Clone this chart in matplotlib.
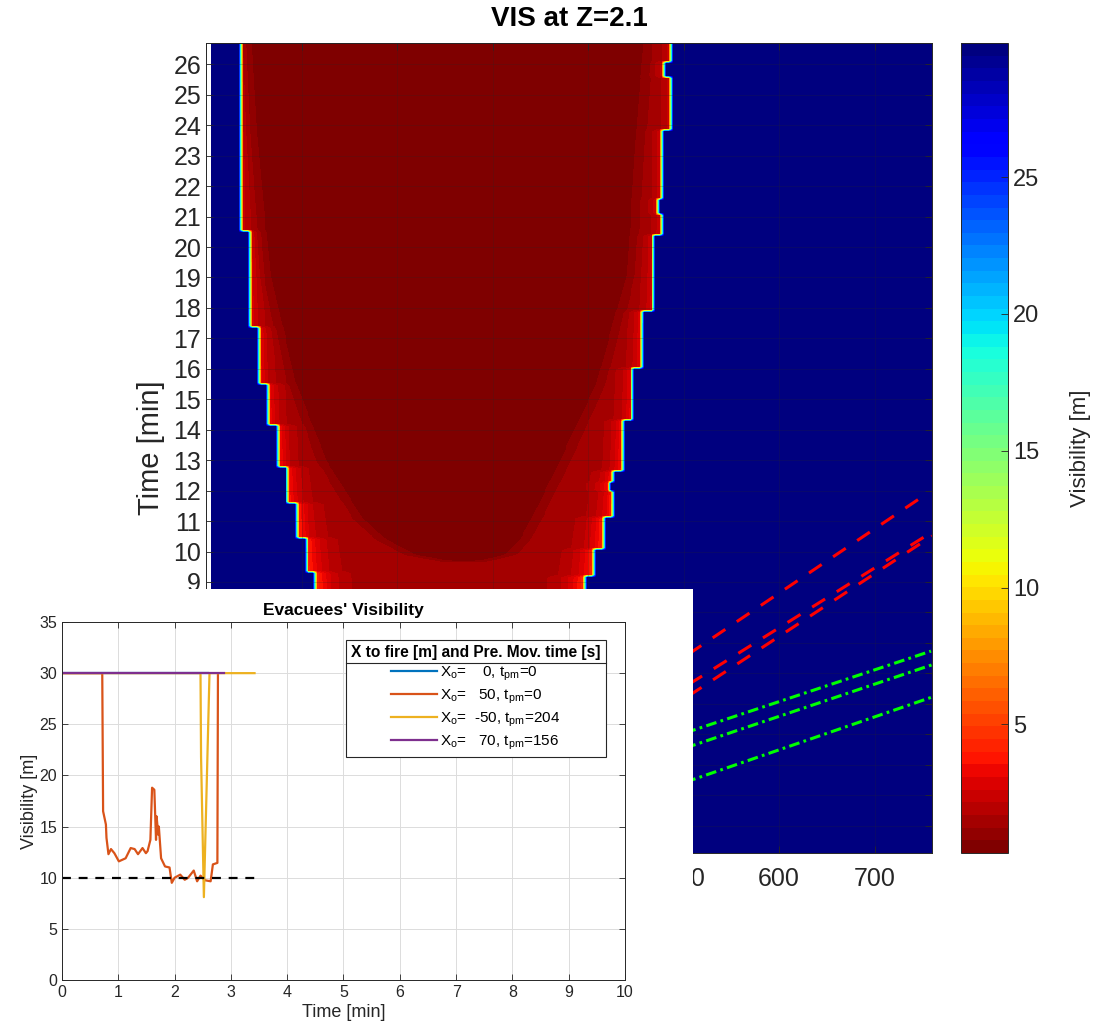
import numpy as np
import matplotlib
matplotlib.use('Agg')
import matplotlib.pyplot as plt
from matplotlib.lines import Line2D

plt.rcParams['font.family'] = ['Liberation Sans', 'DejaVu Sans']
plt.rcParams['mathtext.fontset'] = 'custom'
plt.rcParams['mathtext.rm'] = 'Liberation Sans'
plt.rcParams['mathtext.it'] = 'Liberation Sans:italic'
plt.rcParams['mathtext.bf'] = 'Liberation Sans:bold'

TXT = '#262626'

# ---- heatmap data (VIS at Z=2.1) ----
# smoke front: left edge [m], valid from time [min] upward
left_t = [20.55, 17.39, 15.51, 14.13, 12.80, 11.60, 10.46, 9.32, 0.0]
left_x = [37, 47, 56, 66, 76, 86, 96, 106, 115]
# right edge [m]
right_t = [23.83, 20.42, 17.90, 16.01, 14.31, 12.67, 11.15, 10.08, 9.20, 0.0]
right_x = [486, 477, 468, 456, 446, 436, 426, 416, 406, 396]
# small notches on right edge (t from, t to, shift [m])
notch_t0 = [25.6, 21.1, 12.0]
notch_t1 = [26.1, 21.6, 12.3]
notch_dx = [-7, -4, -4]
# darkest smoke core (U shape)
core_t = [9.70, 9.9, 10.4, 11.1, 13.0, 15.5, 19.1, 23.8, 26.7]
core_l = [250, 215, 185, 160, 122, 90, 63, 48, 42]
core_r = [290, 318, 333, 345, 375, 413, 445, 455, 462]
# visibility right at the smoke edge, and width of the bright band, by time
edgev_t = [0, 9, 13, 20, 26.7]
edgev_v = [4.8, 4.6, 3.9, 2.9, 2.6]
band_w = [22, 18, 11, 8, 7]
VIS_CLEAR = 30.0
VIS_CORE = 0.35
VIS_MID = 1.3

# evacuee paths (distance [m], time [min])
red_x = [[480, 756], [480, 760], [480, 760]]
red_t = [[6.10, 11.93], [5.14, 10.64], [4.74, 10.51]]
green_x = [[480, 759], [480, 760], [480, 760]]
green_t = [[3.82, 6.73], [3.32, 6.28], [2.19, 5.22]]

# ---- inset data (Evacuees' Visibility) ----
blue_t = [0, 2.6]
blue_v = [30, 30]
orange_t = [0, 0.715, 0.73, 0.78, 0.79, 0.825, 0.87, 0.93, 1.01, 1.13, 1.22, 1.29,
            1.35, 1.43, 1.49, 1.52, 1.57, 1.60, 1.64, 1.67, 1.68, 1.71, 1.72, 1.76,
            1.83, 1.91, 1.95, 2.00, 2.10, 2.18, 2.24, 2.34, 2.40, 2.46, 2.54, 2.64,
            2.68, 2.76, 2.77]
orange_v = [30, 30, 16.5, 15.2, 13.9, 12.3, 12.8, 12.4, 11.6, 11.9, 12.9, 12.8,
            12.3, 12.9, 12.4, 12.6, 13.7, 18.8, 18.6, 13.7, 16.0, 14.2, 15.0, 11.9,
            11.1, 11.0, 9.5, 10.0, 10.3, 9.8, 10.0, 10.7, 9.65, 10.2, 9.75, 9.65,
            11.3, 11.45, 30]
yellow_t = [0, 2.46, 2.47, 2.52, 2.62, 3.42]
yellow_v = [30, 30, 21.8, 8.1, 30, 30]
purple_t = [0, 2.87]
purple_v = [30, 30]
thr_t = [0, 3.5]
thr_v = [10, 10]
labels = ['X$_\\mathrm{o}$=    0, t$_\\mathrm{pm}$=0',
          'X$_\\mathrm{o}$=   50, t$_\\mathrm{pm}$=0',
          'X$_\\mathrm{o}$=  -50, t$_\\mathrm{pm}$=204',
          'X$_\\mathrm{o}$=   70, t$_\\mathrm{pm}$=156']
colors = ['#0072BD', '#D95319', '#EDB120', '#7E2F8E']


def step_edge(t, ts, xs):
    ts = np.asarray(ts)
    xs = np.asarray(xs, dtype=float)
    out = np.empty_like(t)
    for k, tt in enumerate(t):
        out[k] = xs[np.argmax(tt >= ts)]
    return out


def blur(a, kx, ky):
    p = np.pad(a, ((ky // 2, ky // 2), (kx // 2, kx // 2)), mode='edge')
    out = np.zeros_like(a)
    for i in range(ky):
        for j in range(kx):
            out += p[i:i + a.shape[0], j:j + a.shape[1]]
    return out / (kx * ky)


xg = np.arange(6, 761, 1.0)
tg = np.arange(0.1, 26.7, 0.033)
L = step_edge(tg, left_t, left_x)
R = step_edge(tg, right_t, right_x)
for a, b, dx in zip(notch_t0, notch_t1, notch_dx):
    R[(tg >= a) & (tg <= b)] += dx
CL = np.interp(tg, core_t, core_l, left=270, right=core_l[-1])
CR = np.interp(tg, core_t, core_r, left=270, right=core_r[-1])
EV = np.interp(tg, edgev_t, edgev_v)
BW = np.interp(tg, edgev_t, band_w)

X = xg[None, :]
d_edge = np.minimum(X - L[:, None], R[:, None] - X)
mid = VIS_MID + (EV[:, None] - VIS_MID) * np.exp(-np.clip(d_edge, 0, None) / BW[:, None])
d_core = np.minimum(X - CL[:, None], CR[:, None] - X)
w = np.clip(d_core / 24.0 + 0.4, 0, 1)
w[tg < core_t[0], :] = 0
vin = w * VIS_CORE + (1 - w) * mid
V = np.where(d_edge >= 0, vin, VIS_CLEAR)
V = blur(V, 5, 3)

# ---- figure ----
fig = plt.figure(figsize=(10.94, 10.27), dpi=100)
ax = fig.add_axes([206 / 1094, 1 - 853 / 1027, 726 / 1094, 810 / 1027])
cmap = plt.get_cmap('jet_r', 64)
im = ax.imshow(V, origin='lower', aspect='auto', cmap=cmap, vmin=0.3, vmax=29.9,
               extent=(xg[0] - 0.5, xg[-1] + 0.5, tg[0], tg[-1]),
               interpolation='nearest', zorder=1)
for xs, ts in zip(red_x, red_t):
    ax.plot(xs, ts, color='#ff0000', lw=2.2, dashes=(5, 4.5), zorder=3)
for xs, ts in zip(green_x, green_t):
    ax.plot(xs, ts, color='#00ff00', lw=2.2, dashes=(3.5, 1.4, 0.9, 1.4), zorder=3)
ax.set_xlim(6, 760)
ax.set_ylim(0.1, 26.7)
ax.set_xticks(range(0, 800, 100))
ax.set_yticks(range(1, 27))
ax.grid(True, color=TXT, alpha=0.25, lw=0.6)
ax.set_axisbelow(False)
ax.tick_params(direction='in', top=True, right=True, labelsize=18, colors=TXT,
               length=5, width=0.6)
ax.tick_params(axis='x', pad=10)
for s in ax.spines.values():
    s.set_color(TXT)
    s.set_linewidth(0.7)
ax.set_ylabel('Time [min]', fontsize=21, color=TXT, labelpad=6)
ax.set_title('VIS at Z=2.1', fontsize=20, fontweight='bold', color='k', pad=12)

cax = fig.add_axes([961 / 1094, 1 - 853 / 1027, 47 / 1094, 810 / 1027])
cb = fig.colorbar(im, cax=cax, ticks=[5, 10, 15, 20, 25])
cb.outline.set_edgecolor(TXT)
cb.outline.set_linewidth(0.7)
cax.tick_params(direction='in', labelsize=17, colors=TXT, length=5, width=0.6)
cb.set_label('Visibility [m]', fontsize=16, color=TXT, labelpad=22)

# white panel with the inset chart
panel = fig.add_axes([0, 0, 693 / 1094, 1 - 589 / 1027])
panel.set_facecolor('white')
panel.set_xticks([])
panel.set_yticks([])
for s in panel.spines.values():
    s.set_visible(False)

ins = fig.add_axes([62 / 1094, 1 - 980 / 1027, 563 / 1094, 358 / 1027])
series = [(blue_t, blue_v), (orange_t, orange_v), (yellow_t, yellow_v), (purple_t, purple_v)]
handles = []
for (ts, vs), c, lab in zip(series, colors, labels):
    h, = ins.plot(ts, vs, color=c, lw=1.6, label=lab)
    handles.append(h)
ins.plot(thr_t, thr_v, color='k', lw=1.6, dashes=(4, 3.5))
ins.set_xlim(0, 10)
ins.set_ylim(0, 35)
ins.set_xticks(range(0, 11))
ins.set_yticks(range(0, 36, 5))
ins.grid(True, color='#dcdcdc', lw=0.7)
ins.set_axisbelow(True)
ins.tick_params(direction='in', top=True, right=True, labelsize=11.5, colors=TXT,
                length=4, width=0.6)
for s in ins.spines.values():
    s.set_color(TXT)
    s.set_linewidth(0.7)
ins.set_xlabel('Time [min]', fontsize=13, color=TXT, labelpad=3)
ins.set_ylabel('Visibility [m]', fontsize=13, color=TXT, labelpad=1)
ins.set_title("Evacuees' Visibility", fontsize=12.5, fontweight='bold', color='k', pad=5)

leg = ins.legend(handles=handles, loc='upper right', bbox_to_anchor=(0.966, 0.950),
                 borderaxespad=0, fancybox=False, framealpha=1, edgecolor=TXT,
                 fontsize=11, title='X to fire [m] and Pre. Mov. time [s]',
                 title_fontproperties={'weight': 'bold', 'size': 11.2},
                 handlelength=3.0, handletextpad=0.2, labelspacing=0.3,
                 borderpad=0.35)
leg.get_frame().set_linewidth(0.8)

fig.canvas.draw()
lb = leg.get_window_extent()
tb = leg.get_title().get_window_extent()
ysep = tb.y0 - 3
inv = fig.transFigure.inverted()
p0 = inv.transform((lb.x0, ysep))
p1 = inv.transform((lb.x1, ysep))
fig.add_artist(Line2D([p0[0], p1[0]], [p0[1], p1[1]], color=TXT, lw=0.8, zorder=10))

fig.savefig('out.png', dpi=100)
